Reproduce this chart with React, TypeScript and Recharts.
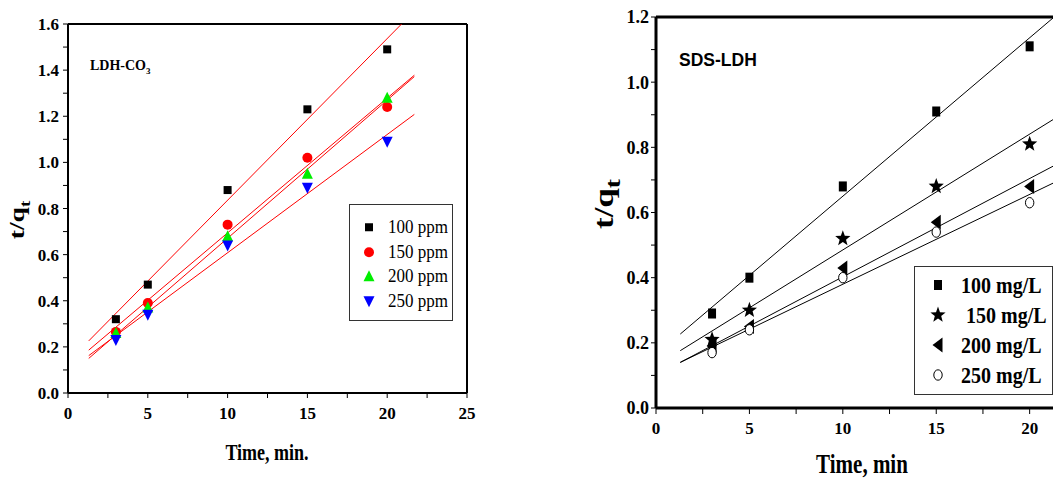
import React from 'react';
import { ComposedChart, Scatter, Line, XAxis, YAxis, ReferenceLine, Legend } from 'recharts';

// ---------- Left panel (LDH-CO3) ----------
const leftTimes = [3, 5, 10, 15, 20];
const left100 = [0.32, 0.47, 0.88, 1.23, 1.49];
const left150 = [0.265, 0.39, 0.73, 1.02, 1.24];
const left200 = [0.26, 0.37, 0.68, 0.95, 1.28];
const left250 = [0.23, 0.34, 0.64, 0.89, 1.09];
// fitted lines, endpoints
const leftFitX100 = [1.3, 20.9];
const leftFitY100 = [0.226, 1.6];
const leftFitX = [1.3, 21.7];
const leftFitY150 = [0.186, 1.378];
const leftFitY200 = [0.15, 1.372];
const leftFitY250 = [0.162, 1.208];
const leftXTicks = [0, 2.5, 5, 7.5, 10, 12.5, 15, 17.5, 20, 22.5, 25];
const leftYTicks = [0, 0.1, 0.2, 0.3, 0.4, 0.5, 0.6, 0.7, 0.8, 0.9, 1.0, 1.1, 1.2, 1.3, 1.4, 1.5, 1.6];
const leftLabels = ['100 ppm', '150 ppm', '200 ppm', '250 ppm'];

// ---------- Right panel (SDS-LDH) ----------
const rightTimes = [3, 5, 10, 15, 20];
const right100 = [0.29, 0.4, 0.68, 0.91, 1.11];
const right150 = [0.21, 0.3, 0.52, 0.68, 0.81];
const right200 = [0.19, 0.25, 0.43, 0.57, 0.68];
const right250 = [0.17, 0.24, 0.4, 0.54, 0.63];
const rightFitX = [1.3, 21.25];
const rightFitY100 = [0.227, 1.197];
const rightFitY150 = [0.176, 0.885];
const rightFitY200 = [0.14, 0.742];
const rightFitY250 = [0.14, 0.69];
const rightXTicks = [0, 2.5, 5, 7.5, 10, 12.5, 15, 17.5, 20];
const rightYTicks = [0, 0.1, 0.2, 0.3, 0.4, 0.5, 0.6, 0.7, 0.8, 0.9, 1.0, 1.1, 1.2];
const rightLabels = ['100 mg/L', '150 mg/L', '200 mg/L', '250 mg/L'];

const pts = (xs: number[], ys: number[]) => xs.map((x, i) => ({ x, y: ys[i] }));

const SERIF = '"Liberation Serif", "Times New Roman", serif';
const SANS = '"Liberation Sans", Arial, sans-serif';

const xFmt = (v: number) => (v % 5 === 0 ? String(v) : '');
const yFmt = (v: number) => (Math.round(v * 10) % 2 === 0 ? v.toFixed(1) : '');

// ---------- marker shapes ----------
const Square = (color: string, w: number, h: number) => (p: any) => (
  <rect x={p.cx - w / 2} y={p.cy - h / 2} width={w} height={h} fill={color} />
);
const Circle = (color: string, rx: number, ry: number, open = false) => (p: any) => (
  <ellipse cx={p.cx} cy={p.cy} rx={rx} ry={ry} fill={open ? '#fff' : color} stroke={color} strokeWidth={open ? 1 : 0} />
);
const TriUp = (color: string, w: number, h: number) => (p: any) => (
  <polygon
    points={`${p.cx},${p.cy - h * 0.55} ${p.cx - w / 2},${p.cy + h * 0.45} ${p.cx + w / 2},${p.cy + h * 0.45}`}
    fill={color}
  />
);
const TriDown = (color: string, w: number, h: number) => (p: any) => (
  <polygon
    points={`${p.cx},${p.cy + h * 0.55} ${p.cx - w / 2},${p.cy - h * 0.45} ${p.cx + w / 2},${p.cy - h * 0.45}`}
    fill={color}
  />
);
const TriLeft = (color: string, w: number, h: number) => (p: any) => (
  <polygon
    points={`${p.cx - w * 0.55},${p.cy} ${p.cx + w * 0.45},${p.cy - h / 2} ${p.cx + w * 0.45},${p.cy + h / 2}`}
    fill={color}
  />
);
const starPoints = (cx: number, cy: number, R: number) => {
  const r = R * 0.42;
  const out: string[] = [];
  for (let i = 0; i < 10; i++) {
    const a = -Math.PI / 2 + (i * Math.PI) / 5;
    const rr = i % 2 === 0 ? R : r;
    out.push(`${cx + rr * Math.cos(a)},${cy + rr * Math.sin(a) * 1.05}`);
  }
  return out.join(' ');
};
const Star = (color: string, R: number) => (p: any) => (
  <polygon points={starPoints(p.cx, p.cy, R)} fill={color} />
);

const leftShapes = [Square('#000', 8, 8), TriUp('#00ee00', 11, 11), TriDown('#0000ff', 11, 11), Circle('#ff0000', 5, 5)];
const leftShapeOrder = [leftShapes[0], leftShapes[3], leftShapes[1], leftShapes[2]];
const rightShapes = [Square('#000', 8, 10), Star('#000', 8), TriLeft('#000', 10, 15), Circle('#000', 4.2, 5.2, true)];

const LegendBox = ({ labels, shapes, style, rowH, fontSize, bold, iconW }: any) => (
  <div
    style={{
      border: '1px solid #333',
      background: '#fff',
      boxSizing: 'border-box',
      fontFamily: SERIF,
      fontSize,
      fontWeight: bold ? 'bold' : 'normal',
      color: '#000',
      ...style,
    }}
  >
    {labels.map((l: string, i: number) => (
      <div key={l} style={{ display: 'flex', alignItems: 'center', height: rowH, whiteSpace: 'pre' }}>
        <svg width={iconW} height={rowH} style={{ flex: 'none' }}>
          {shapes[i]({ cx: iconW / 2, cy: rowH / 2 })}
        </svg>
        <span style={{ display: 'inline-block', transform: 'scaleY(1.15)' }}>{l}</span>
      </div>
    ))}
  </div>
);

const tickStyle = (fs: number) => ({ fontSize: fs, fontWeight: 'bold', fill: '#000', fontFamily: SERIF });

function LeftChart() {
  const series = [left100, left150, left200, left250];
  const fits = [
    pts(leftFitX100, leftFitY100),
    pts(leftFitX, leftFitY150),
    pts(leftFitX, leftFitY200),
    pts(leftFitX, leftFitY250),
  ];
  return (
    <ComposedChart width={480} height={484} margin={{ top: 24, right: 13, bottom: 0, left: 0 }}>
      <XAxis
        type="number"
        dataKey="x"
        domain={[0, 25]}
        ticks={leftXTicks}
        tickFormatter={xFmt}
        interval={0}
        height={91}
        tickSize={5}
        tickMargin={9}
        stroke="#000"
        axisLine={{ strokeWidth: 2 }}
        tick={tickStyle(17)}
      />
      <YAxis
        type="number"
        dataKey="y"
        domain={[0, 1.6]}
        ticks={leftYTicks}
        tickFormatter={yFmt}
        interval={0}
        width={68}
        tickSize={5}
        tickMargin={4}
        stroke="#000"
        axisLine={{ strokeWidth: 2 }}
        tick={tickStyle(17)}
      />
      <ReferenceLine y={1.6} stroke="#000" strokeWidth={2} />
      <ReferenceLine x={25} stroke="#000" strokeWidth={2} />
      {fits.map((d, i) => (
        <Line key={'f' + i} data={d} dataKey="y" stroke="#ff0000" strokeWidth={1} dot={false} isAnimationActive={false} legendType="none" />
      ))}
      {series.map((ys, i) => (
        <Scatter key={'s' + i} name={leftLabels[i]} data={pts(leftTimes, ys)} dataKey="y" shape={leftShapeOrder[i]} isAnimationActive={false} />
      ))}
      <Legend
        layout="vertical"
        align="center"
        verticalAlign="middle"
        wrapperStyle={{ left: 349, top: 204, width: 104, height: 117 }}
        content={() => (
          <LegendBox
            labels={leftLabels}
            shapes={leftShapeOrder}
            rowH={24.5}
            fontSize={17}
            bold={false}
            iconW={38}
            style={{ width: 104, height: 117, paddingTop: 10 }}
          />
        )}
      />
    </ComposedChart>
  );
}

function RightChart() {
  const series = [right100, right150, right200, right250];
  const fits = [
    pts(rightFitX, rightFitY100),
    pts(rightFitX, rightFitY150),
    pts(rightFitX, rightFitY200),
    pts(rightFitX, rightFitY250),
  ];
  return (
    <ComposedChart width={474} height={484} margin={{ top: 17, right: 1, bottom: 0, left: 0 }}>
      <XAxis
        type="number"
        dataKey="x"
        domain={[0, 21.25]}
        ticks={rightXTicks}
        tickFormatter={xFmt}
        interval={0}
        height={76}
        tickSize={6}
        tickMargin={8}
        stroke="#000"
        axisLine={{ strokeWidth: 3 }}
        tick={tickStyle(17)}
      />
      <YAxis
        type="number"
        dataKey="y"
        domain={[0, 1.2]}
        ticks={rightYTicks}
        tickFormatter={yFmt}
        interval={0}
        width={76}
        tickSize={5}
        tickMargin={2}
        stroke="#000"
        axisLine={{ strokeWidth: 3 }}
        tick={tickStyle(18)}
      />
      <ReferenceLine y={1.2} stroke="#000" strokeWidth={3} />
      {fits.map((d, i) => (
        <Line key={'f' + i} data={d} dataKey="y" stroke="#000" strokeWidth={1} dot={false} isAnimationActive={false} legendType="none" />
      ))}
      {series.map((ys, i) => (
        <Scatter key={'s' + i} name={rightLabels[i]} data={pts(rightTimes, ys)} dataKey="y" shape={rightShapes[i]} isAnimationActive={false} />
      ))}
      <Legend
        layout="vertical"
        align="center"
        verticalAlign="middle"
        wrapperStyle={{ left: 334, top: 266, width: 139, height: 129 }}
        content={() => (
          <LegendBox
            labels={['100 mg/L', ' 150 mg/L', '200 mg/L', '250 mg/L']}
            shapes={rightShapes}
            rowH={30}
            fontSize={20}
            bold={true}
            iconW={46}
            style={{ width: 139, height: 129, paddingTop: 3 }}
          />
        )}
      />
    </ComposedChart>
  );
}

export default function App() {
  return (
    <div style={{ position: 'absolute', left: 0, top: 0, width: 1054, height: 484, background: '#fff', overflow: 'hidden' }}>
      <div style={{ position: 'absolute', left: 0, top: 0 }}>
        <LeftChart />
      </div>
      <div style={{ position: 'absolute', left: 580, top: 0 }}>
        <RightChart />
      </div>
      {/* annotations and axis titles */}
      <div style={{ position: 'absolute', left: 90, top: 58, fontFamily: SERIF, fontWeight: 'bold', fontSize: 14 }}>
        LDH-CO<sub style={{ fontSize: 9 }}>3</sub>
      </div>
      <div style={{ position: 'absolute', left: 679, top: 50, fontFamily: SANS, fontWeight: 'bold', fontSize: 17.5 }}>
        SDS-LDH
      </div>
      <div style={{ position: 'absolute', left: 267, top: 453, transform: 'translate(-50%,-50%) scaleY(1.25)', fontFamily: SERIF, fontWeight: 'bold', fontSize: 18, whiteSpace: 'nowrap' }}>
        Time, min.
      </div>
      <div style={{ position: 'absolute', left: 862, top: 465, transform: 'translate(-50%,-50%) scaleY(1.25)', fontFamily: SERIF, fontWeight: 'bold', fontSize: 21, whiteSpace: 'nowrap' }}>
        Time, min
      </div>
      <div style={{ position: 'absolute', left: 19, top: 220, transform: 'translate(-50%,-50%) rotate(-90deg) scaleX(1.25)', fontFamily: SERIF, fontWeight: 'bold', fontSize: 22, whiteSpace: 'nowrap' }}>
        t/q<sub style={{ fontSize: 15 }}>t</sub>
      </div>
      <div style={{ position: 'absolute', left: 607, top: 204, transform: 'translate(-50%,-50%) rotate(-90deg) scaleX(1.25)', fontFamily: SERIF, fontWeight: 'bold', fontSize: 28, whiteSpace: 'nowrap' }}>
        t/q<sub style={{ fontSize: 22 }}>t</sub>
      </div>
    </div>
  );
}
